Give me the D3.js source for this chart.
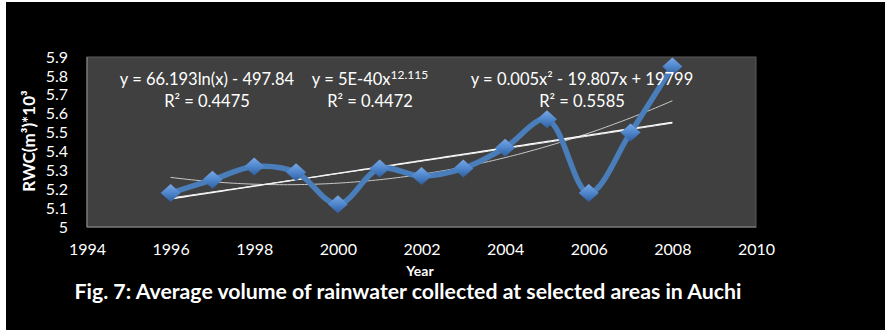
<!DOCTYPE html>
<html><head><meta charset="utf-8">
<script src="https://cdn.jsdelivr.net/npm/d3@7"></script>
<style>
html,body{margin:0;padding:0;background:#fff;}
svg{display:block;}
text{font-family:Lato,"Open Sans",sans-serif;fill:#fff;}
</style></head>
<body>
<svg id="c" width="885" height="330"></svg>
<script>
const years = [1996,1997,1998,1999,2000,2001,2002,2003,2004,2005,2006,2007,2008];
const rwc = [5.18,5.25,5.32,5.29,5.12,5.31,5.27,5.31,5.42,5.57,5.18,5.50,5.85];
const xTicks = [1994,1996,1998,2000,2002,2004,2006,2008,2010];
const yTicks = [5,5.1,5.2,5.3,5.4,5.5,5.6,5.7,5.8,5.9];
const eqLog = ["y = 66.193ln(x) - 497.84","R² = 0.4475"];
const eqPow = ["y = 5E-40x","12.115","R² = 0.4472"];
const eqPoly = ["y = 0.005x² - 19.807x + 19799","R² = 0.5585"];
const title = "Fig. 7: Average volume of rainwater collected at selected areas in Auchi";

const svg = d3.select("#c");
svg.append("rect").attr("x",6).attr("y",2).attr("width",879).attr("height",328).attr("fill","#000");

const L=87,R=756,T=57,B=227;
const x = d3.scaleLinear().domain([1994,2010]).range([L,R]);
const y = d3.scaleLinear().domain([5,5.9]).range([B,T]);

svg.append("rect").attr("x",L).attr("y",T).attr("width",R-L).attr("height",B-T)
  .attr("fill","#404040").attr("stroke","#5a5a5a").attr("stroke-width",1);
svg.append("line").attr("x1",L).attr("x2",R).attr("y1",B).attr("y2",B).attr("stroke","#8a8a8a");
svg.append("line").attr("x1",L).attr("x2",L).attr("y1",T).attr("y2",B).attr("stroke","#8a8a8a");

const yAx = d3.axisLeft(y).tickValues(yTicks).tickSize(0).tickPadding(19).tickFormat(d3.format("~g"));
const gy = svg.append("g").attr("transform",`translate(${L},0)`).call(yAx);
gy.select(".domain").remove();
gy.selectAll("text").attr("font-size",16).attr("fill","#fff").attr("font-family","Lato,sans-serif");
const xAx = d3.axisBottom(x).tickValues(xTicks).tickSize(0).tickPadding(17).tickFormat(d3.format("d"));
const gx = svg.append("g").attr("transform",`translate(0,${B})`).call(xAx);
gx.select(".domain").remove();
gx.selectAll("text").attr("font-size",16).attr("fill","#fff").attr("font-family","Lato,sans-serif");

// trendlines via least squares
function linfit(X,Y){const n=X.length,mx=d3.mean(X),my=d3.mean(Y);let sxy=0,sxx=0;for(let i=0;i<n;i++){sxy+=(X[i]-mx)*(Y[i]-my);sxx+=(X[i]-mx)**2;}const b=sxy/sxx;return [my-b*mx,b];}
const [la,lb]=linfit(years.map(Math.log),rwc);
const [pa,pb]=linfit(years.map(Math.log),rwc.map(Math.log));
const xc=years.map(v=>v-2002);
function quadfit(X,Y){let S=[0,0,0,0,0],T=[0,0,0];for(let i=0;i<X.length;i++){for(let k=0;k<5;k++)S[k]+=X[i]**k;for(let k=0;k<3;k++)T[k]+=Y[i]*X[i]**k;}
 const M=[[S[0],S[1],S[2],T[0]],[S[1],S[2],S[3],T[1]],[S[2],S[3],S[4],T[2]]];
 for(let i=0;i<3;i++){for(let j=i+1;j<3;j++){const f=M[j][i]/M[i][i];for(let k=i;k<4;k++)M[j][k]-=f*M[i][k];}}
 const c=[0,0,0];for(let i=2;i>=0;i--){let s=M[i][3];for(let k=i+1;k<3;k++)s-=M[i][k]*c[k];c[i]=s/M[i][i];}return c;}
const qc=quadfit(xc,rwc);
const xs=d3.range(1996,2008.001,0.1);
const ln=d3.line().x(d=>x(d[0])).y(d=>y(d[1]));
svg.append("path").attr("d",ln(xs.map(v=>[v,qc[0]+qc[1]*(v-2002)+qc[2]*(v-2002)**2]))).attr("fill","none").attr("stroke","#c8c8c8").attr("stroke-width",1);
svg.append("path").attr("d",ln(xs.map(v=>[v,la+lb*Math.log(v)]))).attr("fill","none").attr("stroke","#fff").attr("stroke-width",1.3);
svg.append("path").attr("d",ln(xs.map(v=>[v,Math.exp(pa+pb*Math.log(v))]))).attr("fill","none").attr("stroke","#f0f0f0").attr("stroke-width",1);

const data = years.map((v,i)=>[v,rwc[i]]);
svg.append("path").attr("d",d3.line().x(d=>x(d[0])).y(d=>y(d[1])).curve(d3.curveCatmullRom.alpha(0.5))(data))
  .attr("fill","none").attr("stroke","#4a7ebb").attr("stroke-width",5.5);

const defs=svg.append("defs");
const gr=defs.append("linearGradient").attr("id","mk").attr("x1",0).attr("y1",0).attr("x2",0).attr("y2",1);
gr.append("stop").attr("offset","0%").attr("stop-color","#78a8e6");
gr.append("stop").attr("offset","50%").attr("stop-color","#4f86cc");
gr.append("stop").attr("offset","100%").attr("stop-color","#2f5f9e");
svg.append("g").selectAll("path").data(data).join("path")
  .attr("transform",d=>`translate(${x(d[0])},${y(d[1])})`)
  .attr("d","M0,-9L10,0L0,9L-10,0Z").attr("fill","url(#mk)");

const eqs=svg.append("g").attr("font-size",16.5);
eqs.append("text").attr("x",207).attr("y",85).attr("text-anchor","middle").text(eqLog[0]);
eqs.append("text").attr("x",207).attr("y",107).attr("text-anchor","middle").text(eqLog[1]);
const tp=eqs.append("text").attr("x",370).attr("y",85).attr("text-anchor","middle");
tp.append("tspan").text(eqPow[0]);
tp.append("tspan").attr("dy",-6).attr("font-size",12).text(eqPow[1]);
eqs.append("text").attr("x",370).attr("y",107).attr("text-anchor","middle").text(eqPow[2]);
eqs.append("text").attr("x",582).attr("y",85).attr("text-anchor","middle").text(eqPoly[0]);
eqs.append("text").attr("x",582).attr("y",107).attr("text-anchor","middle").text(eqPoly[1]);

svg.append("text").attr("transform","translate(35,141) rotate(-90)").attr("text-anchor","middle")
  .attr("font-size",17).attr("font-weight","bold").text("RWC(m³)*10³");
svg.append("text").attr("x",420).attr("y",276).attr("text-anchor","middle").attr("font-size",14).attr("font-weight","bold").text("Year");
svg.append("text").attr("x",408).attr("y",299).attr("text-anchor","middle").attr("font-size",20)
  .attr("font-weight","bold").attr("textLength",667).attr("lengthAdjust","spacingAndGlyphs").text(title);
</script>
</body></html>
